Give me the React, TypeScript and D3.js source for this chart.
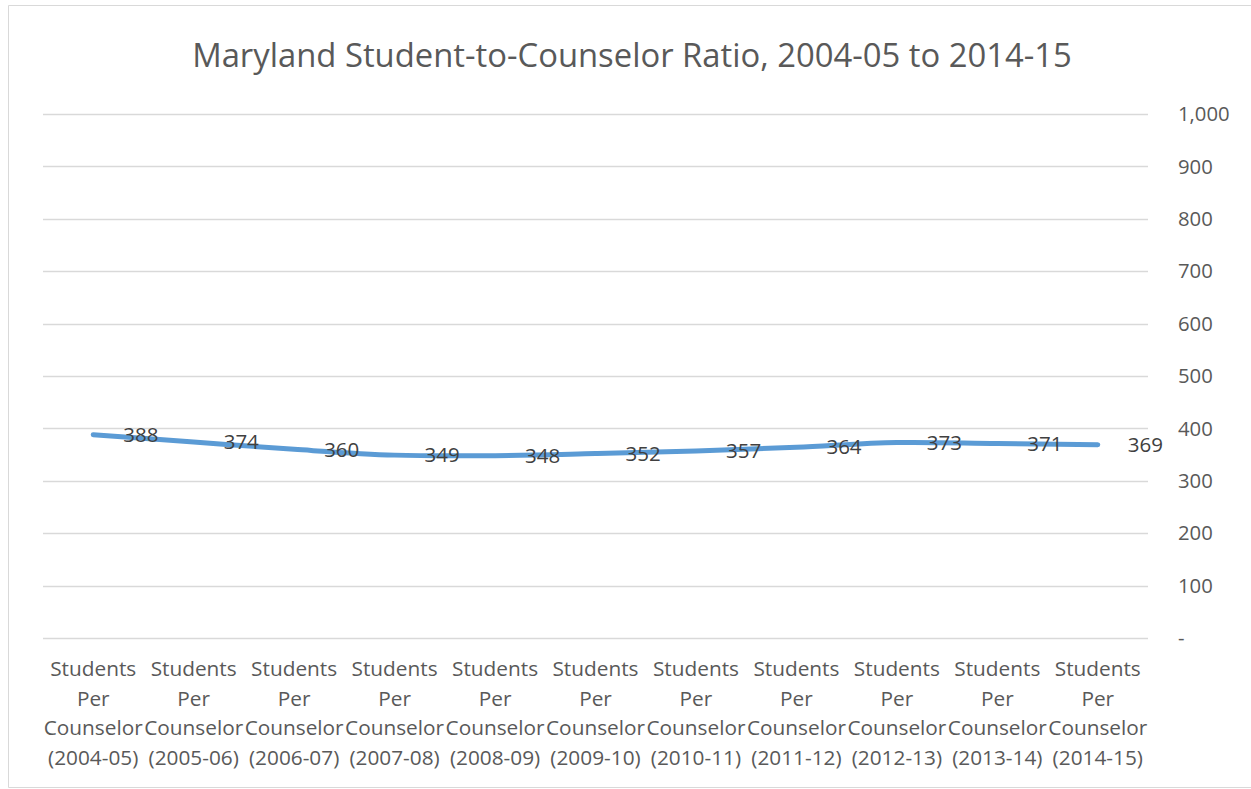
import * as d3 from "d3";
import { useEffect, useRef } from "react";

const years = [
  "2004-05", "2005-06", "2006-07", "2007-08", "2008-09", "2009-10",
  "2010-11", "2011-12", "2012-13", "2013-14", "2014-15",
];
const ratios = [388, 374, 360, 349, 348, 352, 357, 364, 373, 371, 369];
const yTicks = [0, 100, 200, 300, 400, 500, 600, 700, 800, 900, 1000];
const title = "Maryland Student-to-Counselor Ratio, 2004-05 to 2014-15";

const App = () => {
  const ref = useRef<HTMLDivElement>(null);

  useEffect(() => {
    d3.select(ref.current).select("svg").remove();

    const W = 1251, H = 789;
    const margin = { top: 114, right: 103, bottom: 151, left: 43 };
    const width = W - margin.left - margin.right;
    const height = H - margin.top - margin.bottom;
    const font = "'Open Sans', sans-serif";

    const root = d3
      .select(ref.current)
      .append("svg")
      .attr("width", W)
      .attr("height", H)
      .style("position", "absolute")
      .style("left", 0)
      .style("top", 0)
      .style("font-family", font);

    root.append("rect").attr("width", W).attr("height", H).attr("fill", "#fff");
    // chart frame (left, top, bottom edges visible)
    root
      .append("path")
      .attr("d", `M${W},5.5H8.5V787.5H${W}`)
      .attr("fill", "none")
      .attr("stroke", "#d9d9d9");

    root
      .append("text")
      .attr("x", 632)
      .attr("y", 67)
      .attr("text-anchor", "middle")
      .attr("font-size", 32.8)
      .attr("fill", "#595959")
      .text(title);

    const svg = root.append("g").attr("transform", `translate(${margin.left},${margin.top})`);

    const x = d3.scaleBand().domain(years).range([0, width]);
    const y = d3.scaleLinear().domain([0, 1000]).range([height, 0]);

    // gridlines
    svg
      .selectAll("line.grid")
      .data(yTicks)
      .join("line")
      .attr("class", "grid")
      .attr("x1", 0)
      .attr("x2", width)
      .attr("y1", (d) => Math.round(y(d)) + 0.5)
      .attr("y2", (d) => Math.round(y(d)) + 0.5)
      .attr("stroke", "#d9d9d9")
      .attr("stroke-width", 1.5);

    // right axis labels
    svg
      .selectAll("text.ytick")
      .data(yTicks)
      .join("text")
      .attr("class", "ytick")
      .attr("x", width + 30)
      .attr("y", (d) => y(d))
      .attr("dy", "0.35em")
      .attr("font-size", 20.3)
      .attr("fill", "#595959")
      .text((d) => (d === 0 ? "-" : d3.format(",")(d)));

    // category labels
    const cat = svg
      .selectAll("text.xtick")
      .data(years)
      .join("text")
      .attr("class", "xtick")
      .attr("text-anchor", "middle")
      .attr("font-size", 20.8)
      .attr("fill", "#595959");
    const rows = ["Students", "Per", "Counselor", ""];
    rows.forEach((r, i) => {
      cat
        .append("tspan")
        .attr("x", (d) => x(d)! + x.bandwidth() / 2)
        .attr("y", height + 38 + i * 29.5)
        .text((d) => (i === 3 ? `(${d})` : r));
    });

    const cx = (d: string) => x(d)! + x.bandwidth() / 2;

    const line = d3
      .line<number>()
      .x((_, i) => cx(years[i]))
      .y((d) => y(d))
      .curve(d3.curveCatmullRom.alpha(0.5));

    svg
      .append("path")
      .datum(ratios)
      .attr("d", line)
      .attr("fill", "none")
      .attr("stroke", "#5b9bd5")
      .attr("stroke-width", 5)
      .attr("stroke-linecap", "round");

    // data labels, to the right of each point
    svg
      .selectAll("text.lbl")
      .data(ratios)
      .join("text")
      .attr("class", "lbl")
      .attr("x", (_, i) => cx(years[i]) + 30)
      .attr("y", (d) => y(d))
      .attr("dy", "0.35em")
      .attr("font-size", 20.5)
      .attr("fill", "#404040")
      .text((d) => d);
  }, []);

  return <div ref={ref} />;
};

export default App;
